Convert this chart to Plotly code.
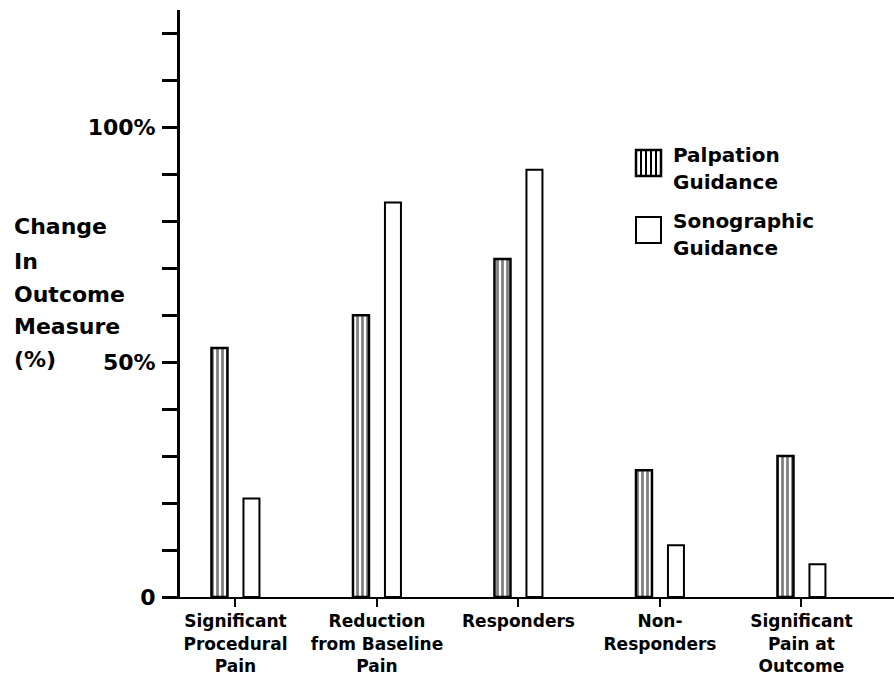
import plotly.graph_objects as go

categories = ["Significant<br>Procedural<br>Pain", "Reduction<br>from Baseline<br>Pain",
              "Responders", "Non-<br>Responders", "Significant<br>Pain at<br>Outcome"]
palpation = [53, 60, 72, 27, 30]
sonographic = [21, 84, 91, 11, 7]
y_tickvals = list(range(0, 121, 10))
y_ticktext = ["0" if v == 0 else ("50%" if v == 50 else ("100%" if v == 100 else "")) for v in y_tickvals]
ytitle_lines = ["Change", "In", "Outcome", "Measure", "(%)"]
legend_names = [["Palpation", "Guidance"], ["Sonographic", "Guidance"]]

FONT = "DejaVu Sans"
W, H = 894, 686
L, R, T, B = 180, 0, 10, 89
PW, PH = W - L - R, H - T - B


def px(x):
    return (x - L) / PW


def py(y):
    return (H - B - y) / PH


fig = go.Figure()
fig.add_trace(go.Bar(
    x=categories, y=palpation, name="Palpation Guidance",
    marker=dict(color="white", line=dict(color="black", width=2.5),
                pattern=dict(shape="|", fgcolor="black", bgcolor="white", size=5, solidity=0.55)),
    showlegend=False))
fig.add_trace(go.Bar(
    x=categories, y=sonographic, name="Sonographic Guidance",
    marker=dict(color="white", line=dict(color="black", width=2)),
    showlegend=False))

annotations = []
ycenters = [227, 261, 294, 326, 359]
for txt, yc in zip(ytitle_lines, ycenters):
    annotations.append(dict(text=txt, x=px(12), y=py(yc), xref="paper", yref="paper",
                            xanchor="left", yanchor="middle", showarrow=False,
                            font=dict(family=FONT, size=22, color="black", weight="bold")))

leg_text_y = [[155, 182], [221, 248]]
for names, ys in zip(legend_names, leg_text_y):
    for n, yc in zip(names, ys):
        annotations.append(dict(text=n, x=px(671), y=py(yc), xref="paper", yref="paper",
                                xanchor="left", yanchor="middle", showarrow=False,
                                font=dict(family=FONT, size=20, color="black", weight="bold")))

shapes = []
# legend icon: palpation (striped)
x0, x1, y0, y1 = 636, 661, 150, 176
shapes.append(dict(type="rect", xref="paper", yref="paper", x0=px(x0), x1=px(x1), y0=py(y1), y1=py(y0),
                   line=dict(color="black", width=2.5), fillcolor="white"))
for i in range(1, 5):
    xx = x0 + (x1 - x0) * i / 5
    shapes.append(dict(type="line", xref="paper", yref="paper", x0=px(xx), x1=px(xx), y0=py(y1), y1=py(y0),
                       line=dict(color="black", width=2)))
# legend icon: sonographic (plain)
shapes.append(dict(type="rect", xref="paper", yref="paper", x0=px(636), x1=px(661), y0=py(243), y1=py(217),
                   line=dict(color="black", width=2), fillcolor="white"))

fig.update_layout(
    width=W, height=H,
    margin=dict(l=L, r=R, t=T, b=B),
    paper_bgcolor="white", plot_bgcolor="white",
    barmode="group", bargap=0.548, bargroupgap=0.5,
    font=dict(family=FONT, color="black"),
    annotations=annotations, shapes=shapes,
    xaxis=dict(range=[-0.392, 4.654], showline=True, linecolor="black", linewidth=2,
               ticks="outside", ticklen=8, tickwidth=2, tickcolor="black",
               tickfont=dict(family=FONT, size=17, color="black", weight="bold"),
               showgrid=False, zeroline=False, tickangle=0),
    yaxis=dict(range=[0, 125], showline=True, linecolor="black", linewidth=3,
               ticks="outside", ticklen=15, tickwidth=2.5, tickcolor="black",
               tickvals=y_tickvals, ticktext=y_ticktext, ticklabelstandoff=2,
               tickfont=dict(family=FONT, size=22, color="black", weight="bold"),
               showgrid=False, zeroline=False),
)

fig.write_html("out.html", config={"displayModeBar": False},
               post_script="document.body.style.margin='0';document.body.style.overflow='hidden';")
